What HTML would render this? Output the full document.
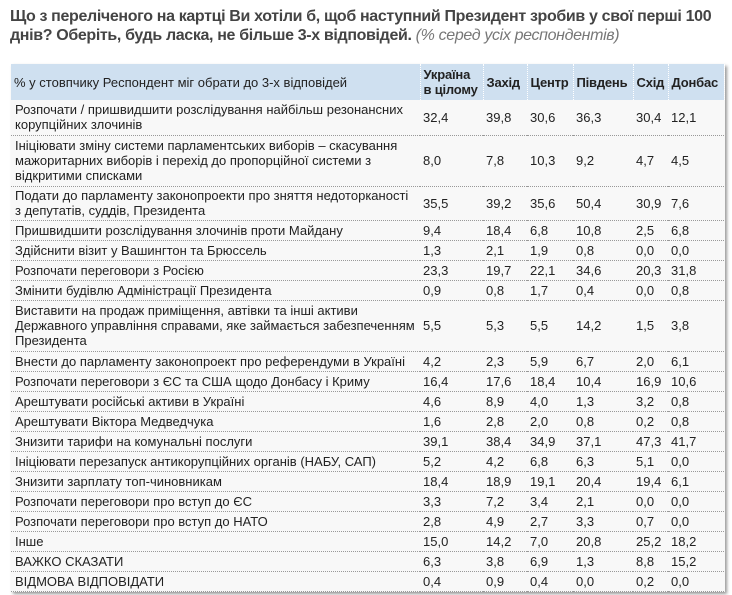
<!DOCTYPE html>
<html><head><meta charset="utf-8"><style>
body{margin:0;background:#fff;width:732px;height:595px;overflow:hidden;font-family:"Liberation Sans",Arial,sans-serif;}
.t{position:absolute;left:10px;top:7px;width:720px;font-size:16px;font-weight:bold;color:#444;line-height:19px;letter-spacing:-0.35px;}
.t i{font-weight:normal;color:#777;}
table{position:absolute;left:11px;top:64px;width:713px;border-collapse:collapse;table-layout:fixed;font-size:13px;color:#222;background:#f8f8f8;box-shadow:2px 2px 3px #999;}
td,th{padding:0 3px;line-height:15px;vertical-align:middle;text-align:left;border-bottom:1px dotted #999;}
th{background:#cfe0f0;font-weight:bold;color:#222;border-right:1px dotted #fff;border-bottom:none;white-space:nowrap;letter-spacing:-0.2px;}
th:first-child{font-weight:normal;letter-spacing:0;}
td:first-child{padding-left:4px;}
</style></head><body>
<div class="t">Що з переліченого на картці Ви хотіли б, щоб наступний Президент зробив у свої перші 100 днів? Оберіть, будь ласка, не більше 3-х відповідей. <i>(% серед усіх респондентів)</i></div>
<table>
<colgroup><col style="width:409px"><col style="width:63px"><col style="width:44px"><col style="width:46px"><col style="width:60px"><col style="width:35px"><col style="width:56px"></colgroup>
<tr style="height:36px"><th>% у стовпчику Респондент міг обрати до 3-х відповідей</th><th>Україна<br>в цілому</th><th>Захід</th><th>Центр</th><th>Південь</th><th>Схід</th><th>Донбас</th></tr>
<tr style="height:35px"><td>Розпочати / пришвидшити розслідування найбільш резонансних корупційних злочинів</td><td>32,4</td><td>39,8</td><td>30,6</td><td>36,3</td><td>30,4</td><td>12,1</td></tr>
<tr style="height:51px"><td>Ініціювати зміну системи парламентських виборів – скасування мажоритарних виборів і перехід до пропорційної системи з відкритими списками</td><td>8,0</td><td>7,8</td><td>10,3</td><td>9,2</td><td>4,7</td><td>4,5</td></tr>
<tr style="height:34px"><td>Подати до парламенту законопроекти про зняття недоторканості з депутатів, суддів, Президента</td><td>35,5</td><td>39,2</td><td>35,6</td><td>50,4</td><td>30,9</td><td>7,6</td></tr>
<tr style="height:20px"><td>Пришвидшити розслідування злочинів проти Майдану</td><td>9,4</td><td>18,4</td><td>6,8</td><td>10,8</td><td>2,5</td><td>6,8</td></tr>
<tr style="height:20px"><td>Здійснити візит у Вашингтон та Брюссель</td><td>1,3</td><td>2,1</td><td>1,9</td><td>0,8</td><td>0,0</td><td>0,0</td></tr>
<tr style="height:20px"><td>Розпочати переговори з Росією</td><td>23,3</td><td>19,7</td><td>22,1</td><td>34,6</td><td>20,3</td><td>31,8</td></tr>
<tr style="height:20px"><td>Змінити будівлю Адміністрації Президента</td><td>0,9</td><td>0,8</td><td>1,7</td><td>0,4</td><td>0,0</td><td>0,8</td></tr>
<tr style="height:51px"><td>Виставити на продаж приміщення, автівки та інші активи Державного управління справами, яке займається забезпеченням Президента</td><td>5,5</td><td>5,3</td><td>5,5</td><td>14,2</td><td>1,5</td><td>3,8</td></tr>
<tr style="height:20px"><td>Внести до парламенту законопроект про референдуми в Україні</td><td>4,2</td><td>2,3</td><td>5,9</td><td>6,7</td><td>2,0</td><td>6,1</td></tr>
<tr style="height:20px"><td>Розпочати переговори з ЄС та США щодо Донбасу і Криму</td><td>16,4</td><td>17,6</td><td>18,4</td><td>10,4</td><td>16,9</td><td>10,6</td></tr>
<tr style="height:20px"><td>Арештувати російські активи в Україні</td><td>4,6</td><td>8,9</td><td>4,0</td><td>1,3</td><td>3,2</td><td>0,8</td></tr>
<tr style="height:20px"><td>Арештувати Віктора Медведчука</td><td>1,6</td><td>2,8</td><td>2,0</td><td>0,8</td><td>0,2</td><td>0,8</td></tr>
<tr style="height:20px"><td>Знизити тарифи на комунальні послуги</td><td>39,1</td><td>38,4</td><td>34,9</td><td>37,1</td><td>47,3</td><td>41,7</td></tr>
<tr style="height:20px"><td>Ініціювати перезапуск антикорупційних органів (НАБУ, САП)</td><td>5,2</td><td>4,2</td><td>6,8</td><td>6,3</td><td>5,1</td><td>0,0</td></tr>
<tr style="height:20px"><td>Знизити зарплату топ-чиновникам</td><td>18,4</td><td>18,9</td><td>19,1</td><td>20,4</td><td>19,4</td><td>6,1</td></tr>
<tr style="height:20px"><td>Розпочати переговори про вступ до ЄС</td><td>3,3</td><td>7,2</td><td>3,4</td><td>2,1</td><td>0,0</td><td>0,0</td></tr>
<tr style="height:20px"><td>Розпочати переговори про вступ до НАТО</td><td>2,8</td><td>4,9</td><td>2,7</td><td>3,3</td><td>0,7</td><td>0,0</td></tr>
<tr style="height:20px"><td>Інше</td><td>15,0</td><td>14,2</td><td>7,0</td><td>20,8</td><td>25,2</td><td>18,2</td></tr>
<tr style="height:20px"><td>ВАЖКО СКАЗАТИ</td><td>6,3</td><td>3,8</td><td>6,9</td><td>1,3</td><td>8,8</td><td>15,2</td></tr>
<tr style="height:20px"><td>ВІДМОВА ВІДПОВІДАТИ</td><td>0,4</td><td>0,9</td><td>0,4</td><td>0,0</td><td>0,2</td><td>0,0</td></tr>
</table>
</body></html>
